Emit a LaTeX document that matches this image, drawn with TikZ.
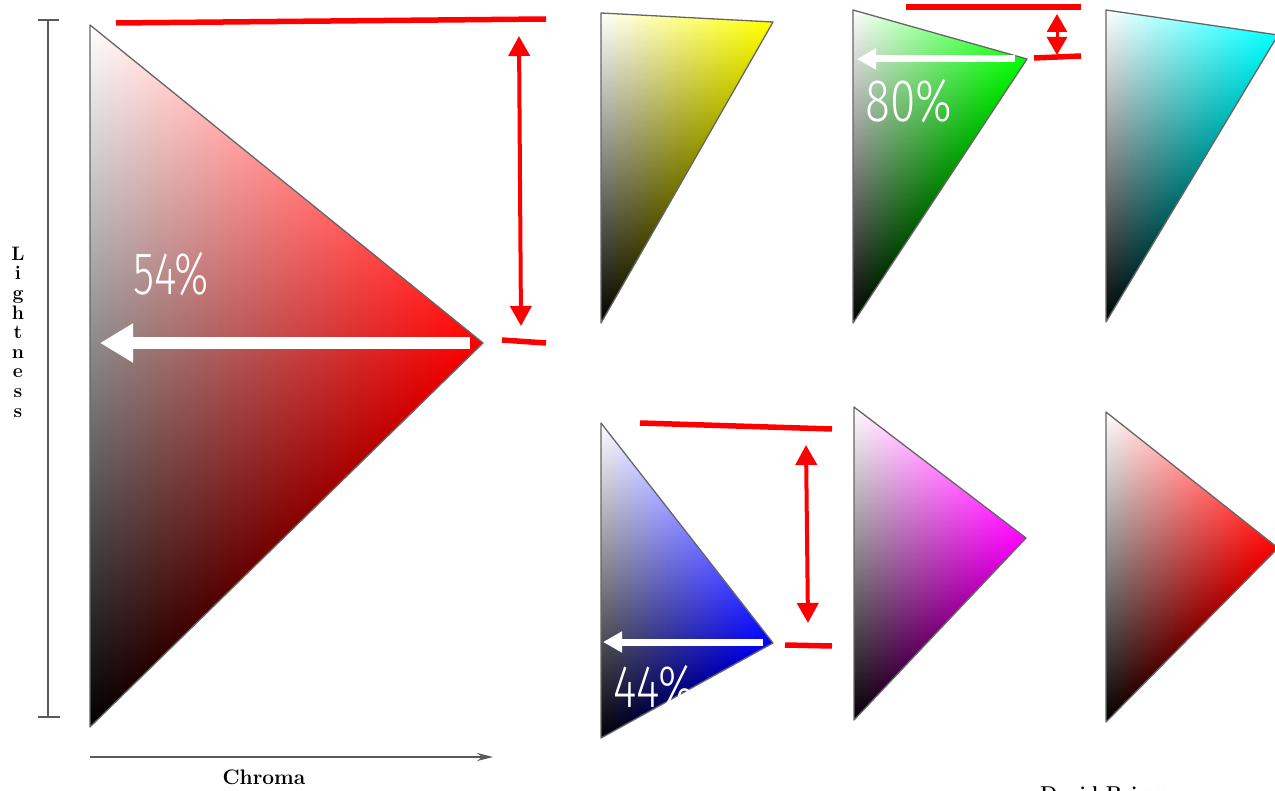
\documentclass[tikz,border=0pt]{standalone}
\usepackage{fontspec}
\usepackage{graphicx}
\usetikzlibrary{arrows.meta}
\IfFontExistsTF{Fira Sans Light}{\newfontfamily\pctfont{Fira Sans Light}}{\newfontfamily\pctfont{Fira Sans}}

% #1 xT, #2 yT, #3 yB, #4 xH, #5 yH, #6 hue colour, #7 number of strips
\newcommand\colortri[7]{%
  \begin{scope}
    \clip (#1,#2) -- (#4,#5) -- (#1,#3) -- cycle;
    \foreach \i in {1,...,#7}{
      \pgfmathsetmacro\trFa{(\i-1)/#7}
      \pgfmathsetmacro\trFb{\i/#7}
      \pgfmathsetmacro\trXa{#1+(#4-#1)*\trFa}
      \pgfmathsetmacro\trXb{#1+(#4-#1)*\trFb}
      \pgfmathsetmacro\trC{100*(\i-0.5)/#7}
      \pgfmathsetmacro\trYt{min(#2+(#5-#2)*\trFa, #2+(#5-#2)*\trFb)}
      \pgfmathsetmacro\trYb{max(#3+(#5-#3)*\trFa, #3+(#5-#3)*\trFb)}
      \shade[top color=#6!\trC!white, bottom color=#6!\trC!black]
        (\trXa-0.4,\trYt) rectangle (\trXb+0.4,\trYb);
    }
  \end{scope}
  \draw[tri outline] (#1,#2) -- (#4,#5) -- (#1,#3) -- cycle;
}

\tikzset{
  tri outline/.style={draw=black!60, line width=1.3pt, line join=round},
  axis line/.style={draw=black!65, line width=1.8pt},
  red rule/.style={draw=red, line width=5.5pt},
  red dim/.style={draw=red, line width=4pt,
    {Triangle[length=20pt,width=21pt]}-{Triangle[length=20pt,width=21pt]}},
  red dim small/.style={draw=red, line width=3pt,
    {Triangle[length=18pt,width=20pt]}-{Triangle[length=18pt,width=20pt]}},
  white arrow big/.style={draw=white, line width=12pt, -{Triangle[length=33pt,width=37pt]}},
  white arrow/.style={draw=white, line width=7pt, -{Triangle[length=19pt,width=20pt]}},
  pct/.style={text=white, inner sep=0pt, anchor=base west,
    font=\pctfont\fontsize{60}{60}\selectfont},
  label serif/.style={inner sep=0pt, font=\fontsize{20}{24}\selectfont\bfseries},
}

\begin{document}
\begin{tikzpicture}[x=1pt, y=-1pt]
  \useasboundingbox (0,0) rectangle (1275,791);
  \fill[white] (0,0) rectangle (1275,791);
  \clip (0,0) rectangle (1275,791);

  % colour triangles
  \colortri{90}{25}{727}{483}{343}{red}{110}
  \colortri{601}{13}{323}{773}{22}{yellow}{55}
  \colortri{853}{10}{323}{1027}{59}{green}{55}
  \colortri{1106}{10}{322}{1278}{35}{cyan}{55}
  \colortri{601}{423}{738}{773}{643}{blue}{55}
  \colortri{854}{407}{720}{1026}{538}{magenta}{55}
  \colortri{1106}{412}{722}{1278}{548}{red}{55}

  % axes
  \coordinate (lt) at (48,20);
  \coordinate (lb) at (48,717);
  \coordinate (lt1) at (38,20);
  \coordinate (lt2) at (59,20);
  \coordinate (lb1) at (38,717);
  \coordinate (lb2) at (60,717);
  \draw[axis line] (lt) -- (lb);
  \draw[axis line] (lt1) -- (lt2);
  \draw[axis line] (lb1) -- (lb2);
  \coordinate (ch0) at (90,757);
  \coordinate (ch1) at (493,757);
  \draw[axis line, line width=1.5pt, -{Stealth[length=16pt,width=8pt]}] (ch0) -- (ch1);

  \node[label serif, font=\fontsize{19.5}{19.6}\selectfont\bfseries, align=center]
    (lightness) at (18,332) {L\\i\\g\\h\\t\\n\\e\\s\\s};
  \node[label serif, font=\fontsize{21}{24}\selectfont\bfseries, anchor=base] (chroma) at (264,784) {Chroma};
  \node[label serif, anchor=base west] (credit) at (1040,800) {David Briggs};

  % white arrows and percentages
  \coordinate (wA0) at (470,343);
  \coordinate (wA1) at (100,343);
  \draw[white arrow big] (wA0) -- (wA1);
  \coordinate (wB0) at (1015,59);
  \coordinate (wB1) at (857,59);
  \draw[white arrow] (wB0) -- (wB1);
  \coordinate (wC0) at (763,642);
  \coordinate (wC1) at (603,642);
  \draw[white arrow] (wC0) -- (wC1);

  \node[pct] (p54) at (133,295) {\scalebox{0.72}[1]{54\%}};
  \node[pct] (p80) at (865,122) {\scalebox{0.77}[1]{80\%}};
  \node[pct] (p44) at (613,707) {\scalebox{0.75}[1]{44\%}};

  % red annotations
  \coordinate (rA1) at (116,23);
  \coordinate (rA2) at (546,19);
  \draw[red rule] (rA1) -- (rA2);
  \coordinate (rB1) at (502,340);
  \coordinate (rB2) at (546,343);
  \draw[red rule] (rB1) -- (rB2);
  \coordinate (dA1) at (519,36);
  \coordinate (dA2) at (521,326);
  \draw[red dim] (dA1) -- (dA2);

  \coordinate (rC1) at (906,7);
  \coordinate (rC2) at (1081,7);
  \draw[red rule] (rC1) -- (rC2);
  \coordinate (rD1) at (1034,58);
  \coordinate (rD2) at (1081,56);
  \draw[red rule] (rD1) -- (rD2);
  \coordinate (dB1) at (1057,14);
  \coordinate (dB2) at (1057,55);
  \draw[red dim small] (dB1) -- (dB2);

  \coordinate (rE1) at (640,423);
  \coordinate (rE2) at (832,429);
  \draw[red rule] (rE1) -- (rE2);
  \coordinate (rF1) at (785,645);
  \coordinate (rF2) at (832,646);
  \draw[red rule] (rF1) -- (rF2);
  \coordinate (dC1) at (806,445);
  \coordinate (dC2) at (808,623);
  \draw[red dim] (dC1) -- (dC2);
\end{tikzpicture}
\end{document}
